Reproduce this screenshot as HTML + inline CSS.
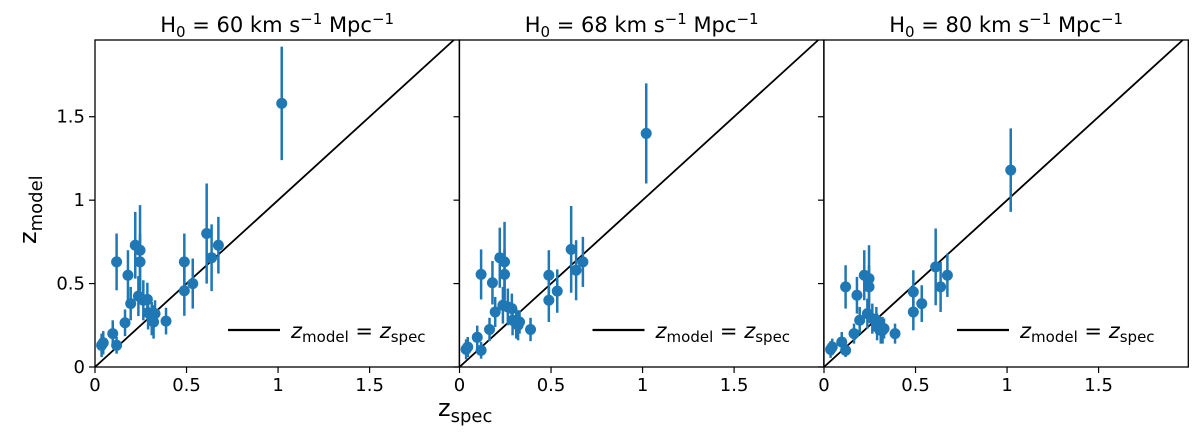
<!DOCTYPE html>
<html><head><meta charset="utf-8"><style>
body{margin:0;background:#fff;}
svg{display:block;font-family:"DejaVu Sans","Liberation Sans",sans-serif;}
</style></head><body>
<svg id="fig" width="1200" height="434" viewBox="0 0 1200 434"></svg>
<script>
const zspec=[0.036,0.045,0.097,0.118,0.118,0.164,0.18,0.195,0.22,0.246,0.246,0.237,0.264,0.286,0.29,0.31,0.328,0.32,0.388,0.488,0.488,0.534,0.61,0.637,0.674,1.02];
const zm60=[0.13,0.145,0.20,0.13,0.63,0.265,0.55,0.38,0.73,0.70,0.63,0.425,0.40,0.405,0.325,0.29,0.32,0.27,0.275,0.63,0.457,0.50,0.80,0.655,0.73,1.58];
const er60=[0.07,0.07,0.08,0.05,0.17,0.08,0.15,0.1,0.2,0.27,0.17,0.12,0.12,0.1,0.1,0.1,0.08,0.1,0.08,0.17,0.15,0.15,0.3,0.2,0.17,0.34];
const zm68=[0.106,0.12,0.178,0.10,0.555,0.225,0.505,0.33,0.655,0.63,0.555,0.37,0.36,0.35,0.28,0.26,0.27,0.25,0.225,0.55,0.40,0.455,0.705,0.58,0.63,1.40];
const er68=[0.06,0.06,0.07,0.05,0.15,0.07,0.13,0.09,0.18,0.24,0.15,0.11,0.11,0.09,0.09,0.09,0.07,0.09,0.07,0.15,0.13,0.13,0.26,0.18,0.15,0.30];
const zm80=[0.105,0.12,0.15,0.10,0.48,0.2,0.43,0.28,0.55,0.53,0.48,0.32,0.29,0.28,0.24,0.22,0.23,0.22,0.2,0.45,0.33,0.38,0.60,0.48,0.55,1.18];
const er80=[0.05,0.05,0.06,0.04,0.13,0.06,0.11,0.08,0.15,0.2,0.13,0.09,0.09,0.08,0.08,0.08,0.06,0.08,0.06,0.13,0.11,0.11,0.23,0.15,0.13,0.25];
const titles=["60","68","80"];
const ticks=[0,0.5,1,1.5];
const tickLabels=["0","0.5","1","1.5"];
const panels=[[zm60,er60],[zm68,er68],[zm80,er80]];
const NS="http://www.w3.org/2000/svg";
const svg=document.getElementById('fig');
function mk(tag,attrs,parent,text){const e=document.createElementNS(NS,tag);for(const k in attrs)e.setAttribute(k,attrs[k]);if(text!==undefined)e.textContent=text;(parent||svg).appendChild(e);return e;}
const yTop=40,bot=367,W=364.3,XMAX=1.99,YMAX=1.96;
const lefts=[95,459.5,824];
panels.forEach((p,pi)=>{
  const L=lefts[pi];
  const sx=v=>L+v/XMAX*W, sy=v=>bot-v/YMAX*(bot-yTop);
  const g=mk('g',{});
  
  
  const t=mk('text',{x:L+W/2,y:32,'text-anchor':'middle','font-size':21,fill:'#000'},g);
  
  
  t.innerHTML='H<tspan font-size="15" dy="5">0</tspan><tspan dy="-5"> = '+titles[pi]+' km s</tspan><tspan font-size="15" dy="-8">−1</tspan><tspan dy="8"> Mpc</tspan><tspan font-size="15" dy="-8">−1</tspan>';
  const d=mk('line',{x1:sx(0),y1:sy(0),x2:sx(YMAX),y2:sy(YMAX),stroke:'#000','stroke-width':1.8},g);
  
  
  const [zm,er]=p;
  zspec.forEach((x,i)=>{
    const eb=mk('line',{x1:sx(x),x2:sx(x),y1:sy(zm[i]-er[i]),y2:sy(zm[i]+er[i]),stroke:'#1f77b4','stroke-width':2.5},g);
    
    
  });
  zspec.forEach((x,i)=>{
    const c=mk('circle',{cx:sx(x),cy:sy(zm[i]),r:5.5,fill:'#1f77b4'},g);
    
    
  });
  ticks.forEach((v,i)=>{
    mk('line',{x1:sx(v),x2:sx(v),y1:bot,y2:bot+6,stroke:'#000','stroke-width':1.2},g);
    const xl=mk('text',{x:sx(v),y:bot+24,'text-anchor':'middle','font-size':18},g,tickLabels[i]);
    
    
    mk('line',{x1:L-6,x2:L,y1:sy(v),y2:sy(v),stroke:'#000','stroke-width':1.2},g);
    if(pi===0){
      const yl=mk('text',{x:L-10,y:sy(v)+6,'text-anchor':'end','font-size':18},g,tickLabels[i]);
      
      
    }
  });
  const fr=mk('rect',{x:L,y:yTop,width:W,height:bot-yTop,fill:'none',stroke:'#000','stroke-width':1.3},g);
  
  
  const lg=mk('g',{},g);
  
  
  mk('line',{x1:L+133,x2:L+185,y1:330,y2:330,stroke:'#000','stroke-width':2.2},lg);
  const lt=mk('text',{x:L+196,y:338,'font-size':21,'font-style':'italic'},lg);
  lt.innerHTML='z<tspan font-size="15" font-style="normal" dy="4">model</tspan><tspan font-style="normal" dy="-4"> = </tspan>z<tspan font-size="15" font-style="normal" dy="4">spec</tspan>';
});
const xt=mk('text',{x:438,y:416,'font-size':24});


xt.innerHTML='z<tspan font-size="18" dy="6">spec</tspan>';
const yt=mk('text',{x:0,y:0,'font-size':24,transform:'translate(36,244) rotate(-90)'});


yt.innerHTML='z<tspan font-size="18" dy="6">model</tspan>';
</script>
</body></html>
